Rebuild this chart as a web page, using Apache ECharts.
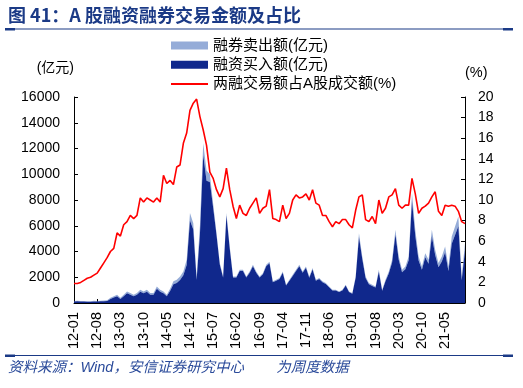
<!DOCTYPE html>
<html>
<head>
<meta charset="utf-8">
<script src="https://cdn.jsdelivr.net/npm/echarts@6/dist/echarts.min.js"></script>
<style>html,body{margin:0;padding:0;background:#fff}#c{width:523px;height:388px}</style>
</head>
<body>
<div id="c"></div>
<script>
var categories = [
'12-01','12-02','12-03','12-04','12-05','12-06','12-07','12-08','12-09','12-10','12-11','12-12',
'13-01','13-02','13-03','13-04','13-05','13-06','13-07','13-08','13-09','13-10','13-11','13-12',
'14-01','14-02','14-03','14-04','14-05','14-06','14-07','14-08','14-09','14-10','14-11','14-12',
'15-01','15-02','15-03','15-04','15-05','15-06','15-07','15-08','15-09','15-10','15-11','15-12',
'16-01','16-02','16-03','16-04','16-05','16-06','16-07','16-08','16-09','16-10','16-11','16-12',
'17-01','17-02','17-03','17-04','17-05','17-06','17-07','17-08','17-09','17-10','17-11','17-12',
'18-01','18-02','18-03','18-04','18-05','18-06','18-07','18-08','18-09','18-10','18-11','18-12',
'19-01','19-02','19-03','19-04','19-05','19-06','19-07','19-08','19-09','19-10','19-11','19-12',
'20-01','20-02','20-03','20-04','20-05','20-06','20-07','20-08','20-09','20-10','20-11','20-12',
'21-01','21-02','21-03','21-04','21-05','21-06','21-07','21-08','21-09','21-10','21-11'
];
// 融资买入额(亿元)
var marginBuy = [
110,140,110,110,90,100,120,110,130,140,160,320,
420,530,320,530,750,640,530,640,870,750,870,640,
640,1110,880,750,530,930,1450,1550,1780,2150,2950,6400,
5700,1800,5300,11500,9500,9400,7400,5300,3000,1980,6800,4240,
1980,1980,2480,2480,1980,2350,2850,2350,1980,2230,2860,3080,
1610,1720,1860,2350,1360,1720,2100,2480,2850,2350,2730,1970,
2600,1720,1860,1610,1480,1230,980,980,850,980,1350,850,
720,1960,5120,3410,1940,1450,1320,1200,2430,950,1680,2300,
3150,5330,3360,2380,2620,3330,7920,5230,3310,2590,3550,3050,
5180,3730,2780,3230,3940,2490,4610,5290,5960,1760,4100
];
// 融券卖出额(亿元)
var shortSell = [
40,40,40,50,40,40,50,50,50,60,60,80,
100,120,80,120,150,130,120,130,160,150,160,130,
130,180,150,150,120,170,230,250,280,300,400,600,
500,250,700,900,800,600,300,150,100,80,200,150,
80,80,100,100,80,100,120,100,80,90,110,120,
70,80,80,100,60,80,90,100,120,100,110,90,
110,80,80,70,70,60,50,50,50,50,70,50,
50,100,300,200,120,100,100,90,150,80,120,150,
200,350,250,200,220,280,600,450,300,250,320,300,
500,400,320,380,450,350,550,650,750,300,550
];
// 两融交易额占A股成交额(%)
var ratio = [
1.9,1.9,2.0,2.2,2.4,2.5,2.7,2.9,3.4,3.9,4.4,5.0,
5.3,6.8,6.5,7.6,7.9,8.5,8.2,8.5,10.2,9.8,10.2,10.0,
9.8,10.2,9.8,12.4,11.6,11.9,11.5,13.2,13.4,15.5,16.5,18.7,
19.4,19.8,18.1,16.8,15.3,12.7,12.1,11.0,10.3,11.1,13.1,11.0,
9.4,8.2,9.5,8.7,8.5,9.2,9.7,10.2,8.7,9.2,9.4,11.0,
8.2,8.1,7.9,9.5,8.2,8.7,10.0,10.5,10.2,10.3,10.6,10.0,
11.0,9.7,9.5,8.5,8.5,7.9,7.4,7.9,7.7,8.1,8.1,7.6,
7.3,9.0,10.3,10.5,8.1,7.9,8.4,7.7,10.0,8.7,9.2,10.3,
10.5,11.1,9.5,9.2,9.5,9.5,12.1,10.6,8.7,9.2,9.4,9.7,
10.3,10.8,8.9,8.5,9.5,9.4,9.5,9.4,8.9,7.9,7.7
];
var leftTicks = {min: 0, max: 16000, interval: 2000};
var rightTicks = {min: 0, max: 20, interval: 2};

var FONT = '"Liberation Sans", Arial, "Noto Sans CJK SC", sans-serif';
var NAVY = '#1B3A86';
var chart = echarts.init(document.getElementById('c'), null, {renderer: 'canvas'});
var showLabel = function (i) { return i % 7 === 0; };
var plain = function (v) { return String(v); };
chart.setOption({
  animation: false,
  backgroundColor: '#fff',
  textStyle: {fontFamily: FONT},
  grid: {left: 74, right: 58, top: 97, bottom: 85, containLabel: false},
  legend: {
    orient: 'vertical', left: 166, top: 33,
    itemWidth: 37, itemHeight: 8, itemGap: 4.3,
    symbolKeepAspect: true,
    textStyle: {fontSize: 15, color: '#000', fontFamily: FONT, lineHeight: 15},
    data: [
      {name: '融券卖出额(亿元)', icon: 'rect'},
      {name: '融资买入额(亿元)', icon: 'rect'},
      {name: '两融交易额占A股成交额(%)', icon: 'path://M0,0L37,0L37,2L0,2Z'}
    ]
  },
  xAxis: {
    type: 'category', data: categories, boundaryGap: false,
    axisLine: {lineStyle: {color: '#000', width: 1}},
    axisTick: {inside: true, length: 4, interval: showLabel, lineStyle: {color: '#000'}},
    axisLabel: {interval: showLabel, rotate: 90, fontSize: 14.5, color: '#000', margin: 9, fontFamily: FONT},
    splitLine: {show: false}
  },
  yAxis: [
    {
      type: 'value', min: leftTicks.min, max: leftTicks.max, interval: leftTicks.interval,
      name: '(亿元)', nameLocation: 'end', nameGap: 22,
      nameTextStyle: {fontSize: 14, color: '#000', align: 'right', fontFamily: FONT},
      axisLine: {show: true, lineStyle: {color: '#000', width: 1}},
      axisTick: {show: true, inside: true, length: 4, lineStyle: {color: '#000'}},
      axisLabel: {fontSize: 14, color: '#000', margin: 14, fontFamily: FONT, formatter: plain},
      splitLine: {show: false}
    },
    {
      type: 'value', min: rightTicks.min, max: rightTicks.max, interval: rightTicks.interval,
      name: '(%)', nameLocation: 'end', nameGap: 17,
      nameTextStyle: {fontSize: 14.5, color: '#000', align: 'left', fontFamily: FONT},
      axisLine: {show: true, lineStyle: {color: '#000', width: 1}},
      axisTick: {show: true, inside: true, length: 4, lineStyle: {color: '#000'}},
      axisLabel: {fontSize: 14, color: '#000', margin: 13, fontFamily: FONT, formatter: plain},
      splitLine: {show: false}
    }
  ],
  series: [
    {
      name: '融资买入额(亿元)', type: 'line', stack: 'total', yAxisIndex: 0,
      data: marginBuy, symbol: 'none', showSymbol: false,
      itemStyle: {color: '#10288C'},
      lineStyle: {width: 0, color: '#10288C'},
      areaStyle: {color: '#10288C', opacity: 1},
      z: 2
    },
    {
      name: '融券卖出额(亿元)', type: 'line', stack: 'total', yAxisIndex: 0,
      data: shortSell, symbol: 'none', showSymbol: false,
      itemStyle: {color: '#95ACD8'},
      lineStyle: {width: 0, color: '#95ACD8'},
      areaStyle: {color: '#95ACD8', opacity: 1},
      z: 1
    },
    {
      name: '两融交易额占A股成交额(%)', type: 'line', yAxisIndex: 1,
      data: ratio, symbol: 'none', showSymbol: false,
      itemStyle: {color: '#FF0000'},
      lineStyle: {width: 1.6, color: '#FF0000'},
      z: 5
    }
  ],
  graphic: [
    {type: 'text', left: 8, top: 6, style: {text: '图 41：A 股融资融券交易金额及占比', fill: NAVY, font: 'bold 18px "Noto Sans CJK SC", "Liberation Sans", sans-serif'}},
    {type: 'line', shape: {x1: 5, y1: 29, x2: 513, y2: 29}, style: {stroke: NAVY, lineWidth: 1.2}},
    {type: 'rect', shape: {x: 5, y: 28, width: 10, height: 2.5}, style: {fill: NAVY}},
    {type: 'rect', shape: {x: 503, y: 28, width: 10, height: 2.5}, style: {fill: NAVY}},
    {type: 'line', shape: {x1: 5, y1: 355.5, x2: 513, y2: 355.5}, style: {stroke: NAVY, lineWidth: 1.2}},
    {type: 'rect', shape: {x: 5, y: 354.5, width: 10, height: 2.5}, style: {fill: NAVY}},
    {type: 'rect', shape: {x: 503, y: 354.5, width: 10, height: 2.5}, style: {fill: NAVY}},
    {type: 'text', left: 8, top: 361, style: {text: '资料来源：Wind，安信证券研究中心        为周度数据', fill: '#2A4A9A', font: 'italic 14.5px "Liberation Sans", "Noto Sans CJK SC", sans-serif'}}
  ]
});
</script>
</body>
</html>
